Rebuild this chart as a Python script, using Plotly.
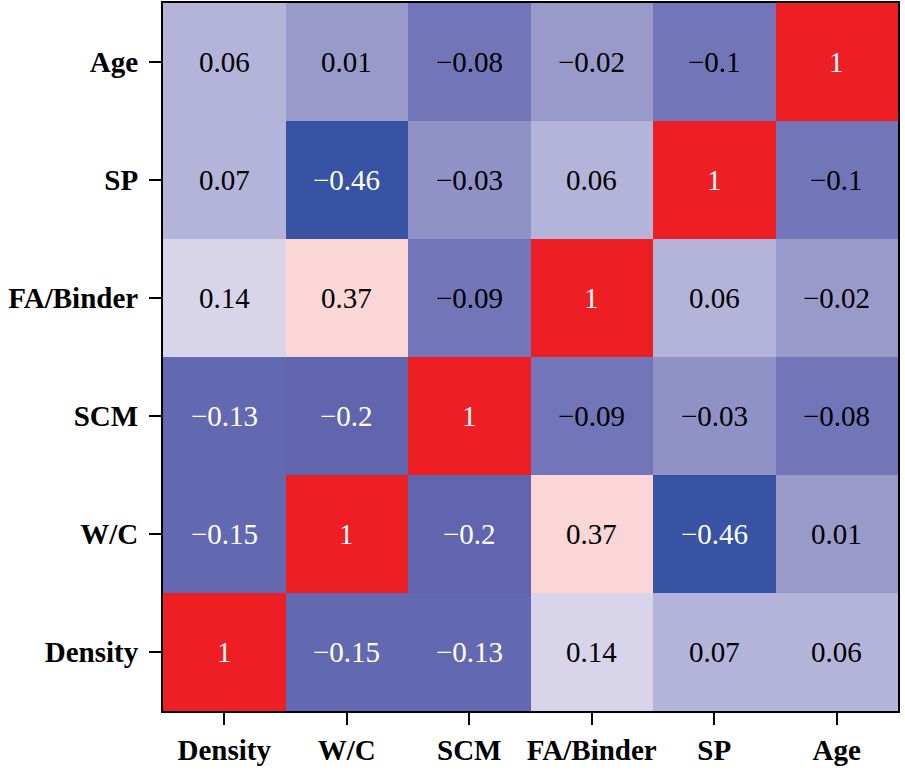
import plotly.graph_objects as go

labels = ["Density", "W/C", "SCM", "FA/Binder", "SP", "Age"]
row_density = [1, -0.15, -0.13, 0.14, 0.07, 0.06]
row_wc = [-0.15, 1, -0.2, 0.37, -0.46, 0.01]
row_scm = [-0.13, -0.2, 1, -0.09, -0.03, -0.08]
row_fab = [0.14, 0.37, -0.09, 1, 0.06, -0.02]
row_sp = [0.07, -0.46, -0.03, 0.06, 1, -0.1]
row_age = [0.06, 0.01, -0.08, -0.02, -0.1, 1]
z = [row_density, row_wc, row_scm, row_fab, row_sp, row_age]

zmin, zmax = -0.46, 1.0
def t(v):
    return (v - zmin) / (zmax - zmin)

colorscale = [
    [0.0, "#3953a4"],
    [t(-0.25), "#5a5ea9"],
    [t(-0.17), "#6369b1"],
    [t(-0.12), "#6369b1"],
    [t(-0.105), "#7276b8"],
    [t(-0.065), "#7276b8"],
    [t(-0.035), "#8589c3"],
    [t(-0.025), "#9a9aca"],
    [t(0.02), "#9a9aca"],
    [t(0.05), "#b4b4da"],
    [t(0.08), "#b4b4da"],
    [t(0.14), "#d8d5eb"],
    [t(0.27), "#ffffff"],
    [t(0.37), "#fad6d6"],
    [1.0, "#ee1f24"],
]

white_vals = {1, -0.46, -0.2, -0.15, -0.13}

def fmt(v):
    return f"{v:g}".replace("-", "\u2212")

fig = go.Figure(go.Heatmap(
    z=z, x=labels, y=labels, colorscale=colorscale, zmin=zmin, zmax=zmax,
    showscale=False, hoverinfo="skip", xgap=0, ygap=0,
))

annotations = []
for i, ylab in enumerate(labels):
    for j, xlab in enumerate(labels):
        v = z[i][j]
        annotations.append(dict(
            x=xlab, y=ylab, text=fmt(v), showarrow=False,
            font=dict(family="Liberation Serif", size=29,
                      color="white" if v in white_vals else "black"),
        ))

fig.update_layout(
    width=905, height=770,
    margin=dict(l=163, r=7, t=3, b=59, autoexpand=False),
    paper_bgcolor="white", plot_bgcolor="white",
    annotations=annotations,
    font=dict(family="Liberation Serif", color="black"),
)
axis_common = dict(
    showline=True, linecolor="black", linewidth=2, mirror=True,
    ticks="outside", ticklen=12, tickwidth=2, tickcolor="black",
    tickfont=dict(family="Liberation Serif", size=29, color="black", weight="bold"),
    showgrid=False, zeroline=False, automargin=False,
)
fig.update_xaxes(**axis_common, ticklabelstandoff=0)
fig.update_yaxes(**axis_common, ticklabelstandoff=5)

fig.write_html("out.html", config={"displayModeBar": False},
               post_script="document.body.style.margin='0px';document.body.style.overflow='hidden';")
